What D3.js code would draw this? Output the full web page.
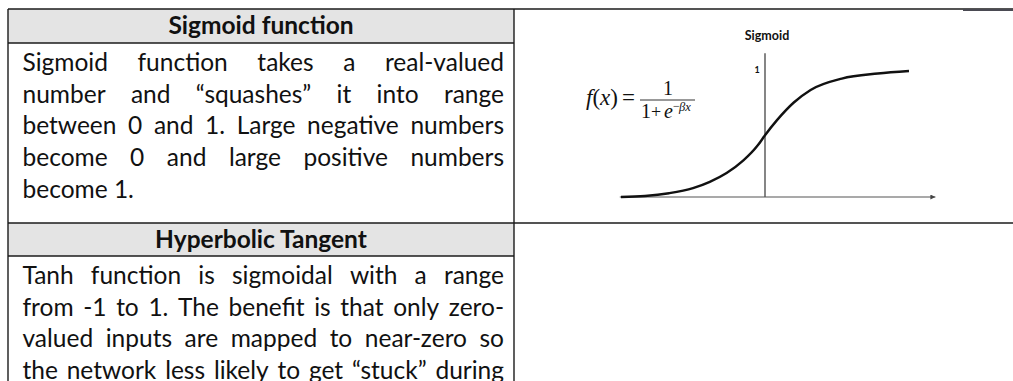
<!DOCTYPE html>
<html>
<head>
<meta charset="utf-8">
<script src="https://cdn.jsdelivr.net/npm/d3@7"></script>
<style>
  html, body { margin: 0; padding: 0; background: #fff; }
  svg { display: block; }
</style>
</head>
<body>
<div id="chart"></div>
<script>
(function () {
  const W = 1013;
  const H = 381;

  // Table text
  const sectionTitles = ['Sigmoid function', 'Hyperbolic Tangent'];
  const sigmoidLines = [
    'Sigmoid function takes a real-valued',
    'number and \u201csquashes\u201d it into range',
    'between 0 and 1. Large negative numbers',
    'become 0 and large positive numbers',
    'become 1.'
  ];
  const tanhLines = [
    'Tanh function is sigmoidal with a range',
    'from -1 to 1. The benefit is that only zero-',
    'valued inputs are mapped to near-zero so',
    'the network less likely to get \u201cstuck\u201d during'
  ];

  // Sigmoid plot
  const chartTitle = 'Sigmoid';
  const curveX = [-6, -5, -4, -3, -2.3, -1.6, -0.9, -0.3, 0, 0.5, 1.2, 1.9, 3.2, 4.7, 6];
  const curveY = [0, 0.008, 0.03, 0.07, 0.12, 0.19, 0.29, 0.41, 0.49, 0.61, 0.75, 0.85, 0.94, 0.98, 1.0];
  const yTickValues = [1];
  const yTickLabels = ['1'];
  const xAxisExtent = [-6.05, 7.1];
  const yAxisExtent = [0, 1.14];

  // Layout
  const LEFT = 8, DIV = 514;
  const TOP = 9, HEAD1 = 43, ROW1 = 223, HEAD2 = 256;
  const TEXT_X0 = 22.5, TEXT_X1 = 504;
  const LINE_H = 31.7;
  const FONT = 'Lato, "Open Sans", sans-serif';
  const FS = 24.5;
  const BORDER = '#1b1b1b';

  const svg = d3.select('#chart').append('svg')
    .attr('width', W)
    .attr('height', H);

  // Header fills
  [[TOP, HEAD1], [ROW1, HEAD2]].forEach(([y0, y1]) => {
    svg.append('rect')
      .attr('x', LEFT).attr('y', y0)
      .attr('width', DIV - LEFT).attr('height', y1 - y0)
      .attr('fill', '#e4e4e4');
  });

  // Header titles
  svg.selectAll('text.head')
    .data(sectionTitles)
    .enter()
    .append('text')
    .attr('class', 'head')
    .attr('x', (LEFT + DIV) / 2)
    .attr('y', (d, i) => i === 0 ? 34 : 248)
    .attr('text-anchor', 'middle')
    .attr('font-family', FONT)
    .attr('font-weight', 'bold')
    .attr('font-size', FS)
    .attr('fill', '#111')
    .text(d => d);

  // Justified paragraph, word by word
  function drawPara(lines, y0, lastLeft) {
    lines.forEach((line, i) => {
      const y = y0 + i * LINE_H;
      if (lastLeft && i === lines.length - 1) {
        svg.append('text')
          .attr('x', TEXT_X0).attr('y', y)
          .attr('font-family', FONT).attr('font-size', FS)
          .attr('fill', '#111')
          .text(line);
        return;
      }
      const words = line.split(' ');
      const nodes = words.map(w => svg.append('text')
        .attr('y', y)
        .attr('font-family', FONT).attr('font-size', FS)
        .attr('fill', '#111')
        .text(w));
      const widths = nodes.map(n => n.node().getComputedTextLength());
      const total = d3.sum(widths);
      const gap = (TEXT_X1 - TEXT_X0 - total) / (words.length - 1);
      let x = TEXT_X0;
      nodes.forEach((n, k) => {
        n.attr('x', x);
        x += widths[k] + gap;
      });
    });
  }

  drawPara(sigmoidLines, 71, true);
  drawPara(tanhLines, 284, false);

  // Table borders
  const hLines = [
    [LEFT, W, TOP], [LEFT, DIV, HEAD1], [LEFT, W, ROW1], [LEFT, DIV, HEAD2]
  ];
  hLines.forEach(([x1, x2, y]) => {
    svg.append('line')
      .attr('x1', x1).attr('x2', x2).attr('y1', y).attr('y2', y)
      .attr('stroke', BORDER).attr('stroke-width', 1.4);
  });
  [LEFT, DIV].forEach(x => {
    svg.append('line')
      .attr('x1', x).attr('x2', x).attr('y1', TOP).attr('y2', H)
      .attr('stroke', BORDER).attr('stroke-width', 1.4);
  });
  svg.append('line')
    .attr('x1', 963).attr('x2', W).attr('y1', 10).attr('y2', 10)
    .attr('stroke', '#4a4a52').attr('stroke-width', 2);

  // Sigmoid chart
  const x = d3.scaleLinear().domain([-6, 6]).range([621, 909]);
  const y = d3.scaleLinear().domain([0, 1]).range([197, 71]);

  svg.append('text')
    .attr('x', 767).attr('y', 40)
    .attr('text-anchor', 'middle')
    .attr('font-family', FONT)
    .attr('font-weight', 'bold')
    .attr('font-size', 12.5)
    .attr('fill', '#111')
    .text(chartTitle);

  // y axis
  svg.append('line')
    .attr('x1', x(0)).attr('x2', x(0))
    .attr('y1', y(yAxisExtent[1])).attr('y2', y(yAxisExtent[0]))
    .attr('stroke', '#222').attr('stroke-width', 1.1);

  svg.selectAll('text.ytick')
    .data(yTickValues)
    .enter()
    .append('text')
    .attr('class', 'ytick')
    .attr('x', x(0) - 8)
    .attr('y', d => y(d) + 2)
    .attr('text-anchor', 'middle')
    .attr('font-family', FONT)
    .attr('font-weight', 'bold')
    .attr('font-size', 9)
    .attr('fill', '#111')
    .text((d, i) => yTickLabels[i]);

  // x axis with arrow
  svg.append('defs').append('marker')
    .attr('id', 'arrow')
    .attr('viewBox', '0 0 10 10')
    .attr('refX', 10).attr('refY', 5)
    .attr('markerWidth', 7).attr('markerHeight', 5)
    .attr('markerUnits', 'userSpaceOnUse')
    .attr('orient', 'auto')
    .append('path')
    .attr('d', 'M0,0L10,5L0,10z')
    .attr('fill', '#444');

  svg.append('line')
    .attr('x1', x(xAxisExtent[0])).attr('x2', x(xAxisExtent[1]))
    .attr('y1', y(0)).attr('y2', y(0))
    .attr('stroke', '#555').attr('stroke-width', 1.1)
    .attr('marker-end', 'url(#arrow)');

  // curve
  const pts = curveX.map((d, i) => [d, curveY[i]]);
  svg.append('path')
    .datum(pts)
    .attr('d', d3.line()
      .x(d => x(d[0]))
      .y(d => y(d[1]))
      .curve(d3.curveMonotoneX))
    .attr('fill', 'none')
    .attr('stroke', '#111')
    .attr('stroke-width', 2.4);

  // Formula f(x) = 1 / (1 + e^{-βx})
  const SERIF = '"Liberation Serif", "DejaVu Serif", serif';
  const fx = svg.append('text')
    .attr('x', 586).attr('y', 105)
    .attr('font-family', SERIF).attr('font-size', 23)
    .attr('fill', '#111');
  fx.append('tspan').attr('font-style', 'italic').text('f');
  fx.append('tspan').text('(');
  fx.append('tspan').attr('font-style', 'italic').text('x');
  fx.append('tspan').text(')');
  svg.append('text')
    .attr('x', 622).attr('y', 105)
    .attr('font-family', SERIF).attr('font-size', 23)
    .attr('fill', '#111')
    .text('=');
  svg.append('line')
    .attr('x1', 640).attr('x2', 695).attr('y1', 100).attr('y2', 100)
    .attr('stroke', '#333').attr('stroke-width', 1);
  svg.append('text')
    .attr('x', 668).attr('y', 95)
    .attr('text-anchor', 'middle')
    .attr('font-family', SERIF).attr('font-size', 20)
    .attr('fill', '#111')
    .text('1');
  svg.append('text')
    .attr('x', 641).attr('y', 118)
    .attr('font-family', SERIF).attr('font-size', 20)
    .attr('fill', '#111')
    .text('1');
  svg.append('text')
    .attr('x', 651).attr('y', 118)
    .attr('font-family', SERIF).attr('font-size', 18)
    .attr('fill', '#111')
    .text('+');
  svg.append('text')
    .attr('x', 664).attr('y', 118)
    .attr('font-family', SERIF).attr('font-size', 20)
    .attr('font-style', 'italic')
    .attr('fill', '#111')
    .text('e');
  svg.append('text')
    .attr('x', 673).attr('y', 110)
    .attr('font-family', SERIF).attr('font-size', 12)
    .attr('fill', '#111')
    .text('\u2212');
  svg.append('text')
    .attr('x', 679).attr('y', 111)
    .attr('font-family', SERIF).attr('font-size', 12.5)
    .attr('font-style', 'italic')
    .attr('fill', '#111')
    .text('\u03b2x');
})();
</script>
</body>
</html>
